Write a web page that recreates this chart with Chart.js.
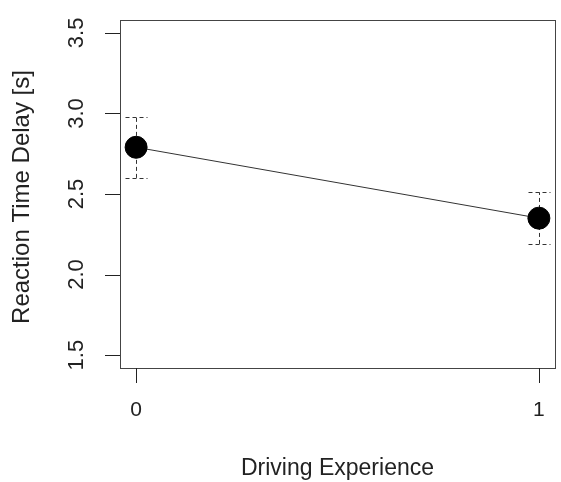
<!DOCTYPE html>
<html>
<head>
<meta charset="utf-8">
<script src="https://cdn.jsdelivr.net/npm/chart.js@4"></script>
<style>
html,body{margin:0;padding:0;background:#fff;}
#wrap{width:561px;height:482px;}
</style>
</head>
<body>
<div id="wrap"><canvas id="c" width="561" height="482"></canvas></div>
<script>
const categories = [0, 1];
const means = [2.79, 2.35];
const errLow = [2.60, 2.19];
const errHigh = [2.98, 2.51];
const yTicks = [1.5, 2.0, 2.5, 3.0, 3.5];
const yTickLabels = ["1.5", "2.0", "2.5", "3.0", "3.5"];
const xTicks = [0, 1];
const xTickLabels = ["0", "1"];
const xTitle = "Driving Experience";
const yTitle = "Reaction Time Delay [s]";

const FAM = '"Liberation Sans", Arial, sans-serif';
const TXT = '#222';

const rPlot = {
  id: 'rPlot',
  beforeDatasetsDraw(chart) {
    const ctx = chart.ctx, xs = chart.scales.x, ys = chart.scales.y;
    ctx.save();
    ctx.strokeStyle = '#333';
    ctx.lineWidth = 1;
    ctx.setLineDash([4, 3]);
    categories.forEach((c, i) => {
      const px = Math.round(xs.getPixelForValue(c)) + 0.5;
      const lo = ys.getPixelForValue(errLow[i]);
      const hi = ys.getPixelForValue(errHigh[i]);
      ctx.beginPath();
      ctx.moveTo(px, lo); ctx.lineTo(px, hi);
      ctx.moveTo(px - 11, Math.round(hi) + 0.5); ctx.lineTo(px + 11, Math.round(hi) + 0.5);
      ctx.moveTo(px - 11, Math.round(lo) + 0.5); ctx.lineTo(px + 11, Math.round(lo) + 0.5);
      ctx.stroke();
    });
    ctx.restore();
  },
  afterDraw(chart) {
    const ctx = chart.ctx, xs = chart.scales.x, ys = chart.scales.y, a = chart.chartArea;
    ctx.save();
    ctx.strokeStyle = '#444';
    ctx.lineWidth = 1;
    ctx.strokeRect(Math.round(a.left) + 0.5, Math.round(a.top) + 0.5, Math.round(a.right - a.left), Math.round(a.bottom - a.top));
    ctx.strokeStyle = '#222';
    ctx.beginPath();
    yTicks.forEach(v => {
      const py = Math.round(ys.getPixelForValue(v)) + 0.5;
      ctx.moveTo(a.left - 15, py); ctx.lineTo(a.left, py);
    });
    xTicks.forEach(v => {
      const px = Math.round(xs.getPixelForValue(v)) + 0.5;
      ctx.moveTo(px, a.bottom); ctx.lineTo(px, a.bottom + 15);
    });
    ctx.stroke();
    ctx.fillStyle = TXT;
    ctx.textAlign = 'center';
    ctx.textBaseline = 'middle';
    ctx.font = '22px ' + FAM;
    yTicks.forEach((v, i) => {
      const py = ys.getPixelForValue(v);
      ctx.save();
      ctx.translate(77, py);
      ctx.rotate(-Math.PI / 2);
      ctx.fillText(yTickLabels[i], 0, 0);
      ctx.restore();
    });
    ctx.font = '21px ' + FAM;
    xTicks.forEach((v, i) => {
      ctx.fillText(xTickLabels[i], xs.getPixelForValue(v), 410);
    });
    ctx.font = '23px ' + FAM;
    ctx.fillText(xTitle, (a.left + a.right) / 2, 469);
    ctx.font = '24px ' + FAM;
    ctx.save();
    ctx.translate(22, (a.top + a.bottom) / 2 + 3);
    ctx.rotate(-Math.PI / 2);
    ctx.fillText(yTitle, 0, 0);
    ctx.restore();
    ctx.restore();
  }
};

new Chart(document.getElementById('c'), {
  type: 'scatter',
  data: {
    datasets: [{
      data: categories.map((c, i) => ({ x: c, y: means[i] })),
      showLine: true,
      borderColor: '#333',
      borderWidth: 1,
      backgroundColor: '#000',
      pointBackgroundColor: '#000',
      pointBorderColor: '#000',
      pointRadius: 11,
      pointHoverRadius: 11
    }]
  },
  options: {
    responsive: false,
    animation: false,
    devicePixelRatio: 1,
    layout: { autoPadding: false, padding: { left: 0, top: 20, right: 6, bottom: 0 } },
    plugins: { legend: { display: false }, tooltip: { enabled: false } },
    scales: {
      x: {
        type: 'linear', min: -0.04, max: 1.04,
        grid: { display: false }, border: { display: false },
        ticks: { display: false },
        afterFit(s) { s.height = 114; }
      },
      y: {
        type: 'linear', min: 1.42, max: 3.58,
        grid: { display: false }, border: { display: false },
        ticks: { display: false },
        afterFit(s) { s.width = 120; }
      }
    }
  },
  plugins: [rPlot]
});
</script>
</body>
</html>
